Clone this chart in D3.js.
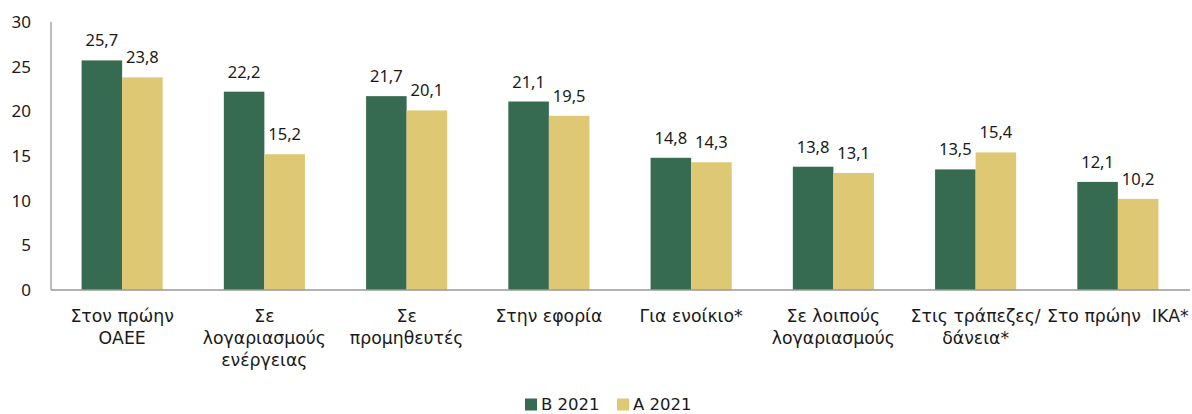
<!DOCTYPE html>
<html>
<head>
<meta charset="utf-8">
<script src="https://cdn.jsdelivr.net/npm/d3@7"></script>
<style>
  body { margin: 0; background: #fff; }
  svg text { font-family: "Noto Sans", "Lato", sans-serif; fill: #1a1a1a; }
  svg text.cat, svg text.leg { font-family: "DejaVu Sans", "Noto Sans", sans-serif; }
</style>
</head>
<body>
<svg id="chart" width="1192" height="414"></svg>
<script>
// data
let categories = [
    ['Στον πρώην', 'ΟΑΕΕ'],
    ['Σε', 'λογαριασμούς', 'ενέργειας'],
    ['Σε', 'προμηθευτές'],
    ['Στην εφορία'],
    ['Για ενοίκιο*'],
    ['Σε λοιπούς', 'λογαριασμούς'],
    ['Στις τράπεζες/', 'δάνεια*'],
    ['Στο πρώην  ΙΚΑ*']
];
let seriesNames = ['Β 2021', 'Α 2021'];
let valuesB = [25.7, 22.2, 21.7, 21.1, 14.8, 13.8, 13.5, 12.1];
let valuesA = [23.8, 15.2, 20.1, 19.5, 14.3, 13.1, 15.4, 10.2];
let yTicks = [0, 5, 10, 15, 20, 25, 30];
let colors = ['#376b51', '#dfc873'];

let svg = d3.select('#chart');
let plotLeft = 51, plotRight = 1189, plotTop = 22, plotBottom = 290;

let x = d3.scaleBand()
    .domain(d3.range(categories.length))
    .range([plotLeft, plotRight])
    .padding(0);
let y = d3.scaleLinear().domain([0, 30]).range([plotBottom, plotTop]);
let barW = x.step() * 0.285;

// y axis labels
svg.append('g')
    .selectAll('text')
    .data(yTicks)
    .join('text')
    .attr('x', 31)
    .attr('y', d => y(d))
    .attr('dy', '0.35em')
    .attr('text-anchor', 'end')
    .style('font-size', '17px')
    .text(d => d);

// bars
let series = [valuesB, valuesA];
series.forEach((vals, s) => {
    let g = svg.append('g');
    g.selectAll('rect')
        .data(vals)
        .join('rect')
        .attr('x', (d, i) => x(i) + x.bandwidth() / 2 + (s - 1) * barW)
        .attr('y', d => y(d))
        .attr('width', barW)
        .attr('height', d => y(0) - y(d))
        .attr('fill', colors[s]);
    g.selectAll('text')
        .data(vals)
        .join('text')
        .attr('x', (d, i) => x(i) + x.bandwidth() / 2 + (s - 0.5) * barW)
        .attr('y', d => y(d) - 14)
        .attr('text-anchor', 'middle')
        .style('font-size', '16.5px')
        .text(d => d3.format('.1f')(d).replace('.', ','));
});

// axis lines
svg.append('line')
    .attr('x1', plotLeft).attr('x2', plotLeft)
    .attr('y1', plotTop).attr('y2', plotBottom)
    .attr('stroke', '#999').attr('stroke-width', 1.3);
svg.append('line')
    .attr('x1', plotLeft).attr('x2', 1190)
    .attr('y1', plotBottom).attr('y2', plotBottom)
    .attr('stroke', '#999').attr('stroke-width', 1.3);

// category labels
let cat = svg.append('g')
    .selectAll('text')
    .data(categories)
    .join('text')
    .attr('class', 'cat')
    .attr('x', (d, i) => x(i) + x.bandwidth() / 2)
    .attr('y', 322)
    .attr('text-anchor', 'middle')
    .style('font-size', '17.3px')
    .style('white-space', 'pre');
cat.selectAll('tspan')
    .data(d => d)
    .join('tspan')
    .attr('x', function () { return this.parentNode.getAttribute('x'); })
    .attr('dy', (d, i) => i === 0 ? 0 : 22)
    .text(d => d);

// legend
let legend = svg.append('g');
let legendX = [525, 617];
seriesNames.forEach((name, s) => {
    legend.append('rect')
        .attr('x', legendX[s]).attr('y', 398.5)
        .attr('width', 12).attr('height', 12)
        .attr('fill', colors[s]);
    legend.append('text')
        .attr('class', 'leg')
        .attr('x', legendX[s] + 16).attr('y', 410)
        .style('font-size', '16.5px')
        .text(name);
});
</script>
</body>
</html>
